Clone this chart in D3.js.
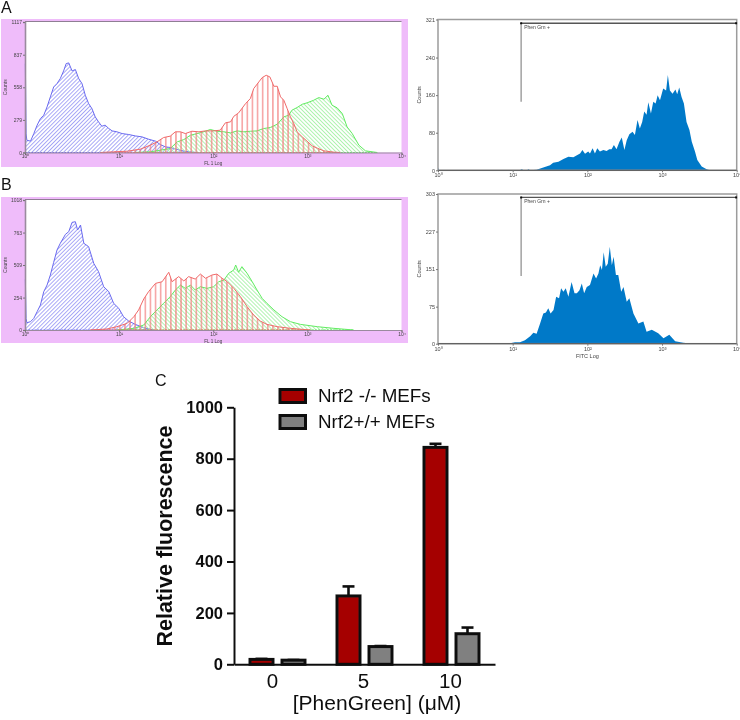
<!DOCTYPE html>
<html>
<head>
<meta charset="utf-8">
<script src="https://cdn.jsdelivr.net/npm/d3@7"></script>
<style>
  html, body { margin: 0; padding: 0; background: #fff; }
  svg { display: block; font-family: "Liberation Sans", Arial, sans-serif; }
</style>
</head>
<body>
<svg id="fig" width="740" height="720"></svg>
<script>
// flow cytometry histograms, channel 0-1024 = 4 log decades
var decadeLabels = ["10⁰", "10¹", "10²", "10³", "10⁴"];
var decadeChannels = [0, 256, 512, 768, 1024];

var blueAch = [1, 3, 5, 15, 24, 33, 42, 51, 60, 69, 78, 87, 96, 105, 112, 119, 128, 137, 146, 155, 164, 173, 182, 191, 200, 209, 218, 228, 237, 250, 264, 282, 300, 318, 336, 355, 368, 382, 395, 414, 436, 468];
var blueAct = [760, 160, 105, 97, 162, 234, 291, 319, 390, 476, 561, 590, 633, 698, 761, 767, 698, 710, 633, 590, 490, 419, 376, 305, 262, 225, 234, 205, 185, 177, 162, 154, 142, 134, 114, 97, 68, 48, 43, 26, 9, 0];
var redAch = [205, 241, 278, 314, 341, 359, 377, 395, 409, 423, 436, 454, 473, 491, 513, 531, 545, 559, 568, 581, 600, 613, 622, 636, 645, 656, 666, 677, 686, 695, 704, 713, 722, 731, 740, 754, 767, 781, 795, 813, 840, 858];
var redAct = [0, 6, 11, 29, 63, 91, 128, 140, 177, 177, 162, 182, 177, 185, 185, 191, 254, 262, 310, 339, 419, 462, 547, 604, 641, 661, 647, 567, 567, 476, 447, 376, 305, 248, 177, 134, 97, 57, 37, 14, 3, 0];
var greenAch = [296, 341, 368, 395, 414, 432, 450, 468, 486, 504, 522, 541, 559, 577, 595, 613, 631, 649, 667, 686, 704, 717, 726, 740, 754, 767, 785, 799, 813, 824, 835, 849, 863, 876, 890, 908, 926, 958];
var greenAct = [0, 6, 20, 34, 91, 111, 148, 162, 177, 197, 182, 177, 168, 185, 177, 182, 185, 205, 214, 242, 305, 319, 362, 385, 413, 425, 447, 470, 456, 490, 405, 382, 333, 219, 162, 63, 14, 0];

var blueBch = [1, 3, 5, 15, 24, 33, 42, 51, 60, 69, 78, 87, 96, 110, 119, 128, 137, 143, 151, 160, 173, 187, 200, 214, 228, 241, 255, 268, 282, 300, 323, 350];
var blueBct = [397, 90, 57, 65, 91, 144, 196, 300, 352, 431, 530, 626, 679, 749, 770, 843, 848, 783, 822, 679, 653, 522, 457, 339, 300, 209, 170, 104, 70, 44, 18, 0];
var redBch = [178, 223, 250, 278, 296, 309, 323, 336, 355, 373, 391, 400, 418, 432, 445, 463, 477, 491, 509, 522, 536, 550, 568, 586, 604, 622, 640, 658, 686, 722, 776];
var redBct = [0, 8, 26, 52, 104, 157, 243, 300, 365, 378, 452, 378, 418, 384, 418, 399, 438, 405, 431, 438, 405, 378, 326, 261, 183, 117, 70, 44, 26, 13, 0];
var greenBch = [250, 296, 323, 341, 359, 377, 395, 409, 423, 436, 450, 463, 477, 495, 513, 527, 541, 554, 568, 573, 581, 590, 604, 618, 631, 645, 658, 677, 699, 722, 749, 795, 840, 894];
var greenBct = [0, 13, 39, 104, 157, 209, 261, 313, 352, 326, 352, 313, 339, 326, 339, 378, 391, 444, 470, 509, 452, 496, 444, 378, 313, 248, 209, 157, 104, 65, 44, 26, 13, 0];

var fitcAch = [0, 2, 4, 280, 287, 294, 305, 310, 316, 338, 361, 384, 395, 413, 430, 447, 464, 487, 495, 504, 515, 521, 530, 538, 546, 555, 567, 578, 587, 595, 603, 612, 622, 630, 639, 647, 656, 667, 675, 684, 692, 700, 707, 715, 721, 730, 738, 746, 753, 761, 772, 782, 788, 795, 804, 814, 820, 827, 835, 843, 852, 862, 870, 881, 889, 904, 921, 932];
var fitcAct = [6, 3, 0, 0, 2, 0, 0, 2, 0, 1, 6, 11, 16, 18, 24, 29, 28, 36, 43, 35, 40, 36, 47, 36, 47, 40, 43, 41, 45, 45, 54, 45, 61, 70, 43, 64, 77, 82, 75, 107, 89, 103, 125, 118, 145, 121, 146, 142, 160, 149, 174, 170, 203, 170, 163, 172, 162, 176, 156, 142, 103, 86, 61, 40, 22, 8, 2, 0];
var fitcBch = [235, 247, 264, 281, 298, 316, 327, 338, 350, 361, 370, 378, 386, 396, 405, 415, 422, 430, 438, 447, 458, 468, 476, 485, 493, 501, 510, 521, 533, 542, 550, 556, 562, 568, 575, 582, 589, 596, 602, 610, 618, 628, 636, 647, 656, 670, 687, 704, 715, 733, 755, 773, 793, 813, 841, 875];
var fitcBct = [0, 1, 3, 3, 7, 15, 22, 20, 41, 61, 63, 72, 61, 68, 95, 92, 112, 105, 112, 95, 125, 102, 102, 108, 122, 102, 115, 119, 142, 132, 142, 159, 149, 185, 156, 162, 196, 159, 176, 139, 139, 105, 115, 85, 92, 61, 41, 45, 24, 28, 21, 11, 18, 5, 2, 0];

var yTicksA = [0, 279, 558, 837, 1117];
var yTicksB = [0, 254, 509, 763, 1018];
var yTicksFitcA = [0, 80, 160, 240, 321];
var yTicksFitcB = [0, 75, 151, 227, 303];

// bar chart
var doses = ["0", "5", "10"];
var barSeries = ["Nrf2 -/- MEFs", "Nrf2+/+ MEFs"];
var koMeans = [19, 266, 844];
var koTops = [21, 303, 858];
var wtMeans = [16, 69, 119];
var wtTops = [17, 71, 143];
var fluorTicks = [0, 200, 400, 600, 800, 1000];

var svg = d3.select("#fig");
var defs = svg.append("defs");

defs.append("filter").attr("id", "soft")
    .attr("x", "-2%").attr("y", "-2%").attr("width", "104%").attr("height", "104%")
    .append("feGaussianBlur").attr("stdDeviation", 0.45);
defs.append("filter").attr("id", "softer")
    .attr("x", "-2%").attr("y", "-2%").attr("width", "104%").attr("height", "104%")
    .append("feGaussianBlur").attr("stdDeviation", 0.3);

function hatch(id, color, spacing, angle, width) {
  defs.append("pattern")
      .attr("id", id)
      .attr("patternUnits", "userSpaceOnUse")
      .attr("width", spacing)
      .attr("height", spacing)
      .attr("patternTransform", "rotate(" + angle + ")")
      .append("line")
      .attr("x1", spacing / 2).attr("x2", spacing / 2)
      .attr("y1", 0).attr("y2", spacing)
      .attr("stroke", color)
      .attr("stroke-width", width);
}
hatch("hatchBlue", "#9f9ff6", 2.8, 45, 0.9);
hatch("hatchRed", "#f27878", 5.1, 0, 1.1);
hatch("hatchGreen", "#a8f2a8", 2.8, -45, 0.9);

var lineColor = {hatchBlue: "#6a6af0", hatchRed: "#f06a6a", hatchGreen: "#62ec62"};

function flowPanel(box, yTicks, layers, xTitle) {
  var g = svg.append("g").attr("filter", "url(#soft)");

  g.append("rect")
   .attr("x", box.bgLeft).attr("y", box.bgTop)
   .attr("width", box.bgRight - box.bgLeft).attr("height", box.bgBottom - box.bgTop)
   .attr("fill", "#efbcfa");
  g.append("rect")
   .attr("x", box.left).attr("y", box.top)
   .attr("width", box.right - box.left).attr("height", box.bottom - box.top)
   .attr("fill", "#fff");

  var x = d3.scaleLinear().domain([0, 1024]).range([box.left, box.right]);
  var y = d3.scaleLinear().domain([0, yTicks[yTicks.length - 1]]).range([box.bottom, box.top]);

  layers.forEach(function(s) {
    var pts = d3.zip(s.ch, s.ct);
    g.append("path")
     .datum(pts)
     .attr("d", d3.area().x(function(d) { return x(d[0]); }).y0(box.bottom).y1(function(d) { return y(d[1]); }))
     .attr("fill", "url(#" + s.fill + ")");
    g.append("path")
     .datum(pts)
     .attr("d", d3.line().x(function(d) { return x(d[0]); }).y(function(d) { return y(d[1]); }))
     .attr("fill", "none")
     .attr("stroke", lineColor[s.fill])
     .attr("stroke-width", 1);
    g.append("line")
     .attr("x1", x(s.ch[0])).attr("x2", x(s.ch[s.ch.length - 1]))
     .attr("y1", box.bottom).attr("y2", box.bottom)
     .attr("stroke", lineColor[s.fill])
     .attr("stroke-dasharray", "2,1");
  });

  var yAxis = d3.axisLeft(y).tickValues(yTicks).tickSize(2).tickPadding(1).tickFormat(d3.format("d"));
  var xAxis = d3.axisBottom(x).tickValues(decadeChannels).tickSize(2).tickPadding(0)
                .tickFormat(function(d, i) { return decadeLabels[i]; });

  var ya = g.append("g").attr("transform", "translate(" + box.left + ",0)").call(yAxis);
  var xa = g.append("g").attr("transform", "translate(0," + box.bottom + ")").call(xAxis);
  [ya, xa].forEach(function(a) {
    a.attr("font-family", "Liberation Sans").attr("font-size", 5);
    a.selectAll("text").attr("fill", "#444");
    a.selectAll("line").attr("stroke", "#777");
    a.select(".domain").attr("stroke", "#9a8a9e").attr("stroke-width", 1);
  });
  ya.select(".domain").attr("stroke-width", 1.6);

  g.append("line")
   .attr("x1", box.left).attr("x2", box.right)
   .attr("y1", box.top - 0.5).attr("y2", box.top - 0.5)
   .attr("stroke", "#8f7f93").attr("stroke-width", 1.2);

  g.append("text")
   .attr("transform", "translate(" + (box.left - 18.5) + "," + ((box.top + box.bottom) / 2) + ") rotate(-90)")
   .attr("text-anchor", "middle")
   .attr("font-size", 5).attr("fill", "#444")
   .text("Counts");
  g.append("text")
   .attr("x", (box.left + box.right) / 2).attr("y", box.bottom + 12.5)
   .attr("text-anchor", "middle")
   .attr("font-size", 4.6).attr("fill", "#444")
   .text(xTitle);
}

function fitcPanel(box, yTicks, ch, ct, gate, xTitle) {
  var g = svg.append("g").attr("filter", "url(#soft)");
  var x = d3.scaleLinear().domain([0, 1024]).range([box.left, box.right]);
  var y = d3.scaleLinear().domain([0, yTicks[yTicks.length - 1]]).range([box.bottom, box.top]);

  g.append("path")
   .datum(d3.zip(ch, ct))
   .attr("d", d3.area().x(function(d) { return x(d[0]); }).y0(box.bottom).y1(function(d) { return y(d[1]); }))
   .attr("fill", "#0479c8");

  g.append("rect")
   .attr("x", box.left).attr("y", box.top)
   .attr("width", box.right - box.left).attr("height", box.bottom - box.top)
   .attr("fill", "none")
   .attr("stroke", "#9c9c9c").attr("stroke-width", 1.5);
  g.append("line")
   .attr("x1", box.left).attr("x2", box.right)
   .attr("y1", box.bottom).attr("y2", box.bottom)
   .attr("stroke", "#555").attr("stroke-width", 1);

  var yAxis = d3.axisLeft(y).tickValues(yTicks).tickSize(2).tickPadding(1);
  var xAxis = d3.axisBottom(x).tickValues(decadeChannels).tickSize(2).tickPadding(1)
                .tickFormat(function(d, i) { return decadeLabels[i]; });
  var ya = g.append("g").attr("transform", "translate(" + box.left + ",0)").call(yAxis);
  var xa = g.append("g").attr("transform", "translate(0," + box.bottom + ")").call(xAxis);
  [ya, xa].forEach(function(a) {
    a.attr("font-family", "Liberation Sans").attr("font-size", 5.5);
    a.selectAll("text").attr("fill", "#444");
    a.selectAll("line").attr("stroke", "#777");
    a.select(".domain").remove();
  });

  // gate marker
  g.append("line")
   .attr("x1", x(gate.ch)).attr("x2", x(gate.ch))
   .attr("y1", y(gate.top)).attr("y2", y(gate.low))
   .attr("stroke", "#9a9a9a").attr("stroke-width", 1.4);
  g.append("line")
   .attr("x1", x(gate.ch)).attr("x2", x(1024))
   .attr("y1", y(gate.top)).attr("y2", y(gate.top))
   .attr("stroke", "#555").attr("stroke-width", 1.3);
  [gate.ch, 1022].forEach(function(c) {
    g.append("rect")
     .attr("x", x(c) - 1).attr("y", y(gate.top) - 1)
     .attr("width", 2).attr("height", 2)
     .attr("fill", "#111");
  });
  g.append("text")
   .attr("x", x(gate.ch) + 3).attr("y", y(gate.top) + 5.5)
   .attr("font-size", 5).attr("fill", "#444")
   .text(gate.label);

  g.append("text")
   .attr("transform", "translate(" + (box.left - 17) + "," + ((box.top + box.bottom) / 2) + ") rotate(-90)")
   .attr("text-anchor", "middle")
   .attr("font-size", 5.5).attr("fill", "#444")
   .text("Counts");
  if (xTitle) {
    g.append("text")
     .attr("x", (box.left + box.right) / 2).attr("y", box.bottom + 14)
     .attr("text-anchor", "middle")
     .attr("font-size", 5.5).attr("fill", "#444")
     .text(xTitle);
  }
}

flowPanel({bgLeft: 1, bgRight: 408, bgTop: 19, bgBottom: 167, left: 25, right: 401.5, top: 22, bottom: 152.5},
          yTicksA,
          [{ch: blueAch, ct: blueAct, fill: "hatchBlue"},
           {ch: greenAch, ct: greenAct, fill: "hatchGreen"},
           {ch: redAch, ct: redAct, fill: "hatchRed"}],
          "FL 1 Log");
flowPanel({bgLeft: 1, bgRight: 408, bgTop: 197, bgBottom: 343, left: 25, right: 401.5, top: 200, bottom: 330},
          yTicksB,
          [{ch: blueBch, ct: blueBct, fill: "hatchBlue"},
           {ch: greenBch, ct: greenBct, fill: "hatchGreen"},
           {ch: redBch, ct: redBct, fill: "hatchRed"}],
          "FL 1 Log");

fitcPanel({left: 438, right: 736.7, top: 19.5, bottom: 170.3}, yTicksFitcA, fitcAch, fitcAct,
          {ch: 285, top: 313, low: 146, label: "Phen Grn +"}, null);
fitcPanel({left: 438, right: 736.7, top: 194, bottom: 343.7}, yTicksFitcB, fitcBch, fitcBct,
          {ch: 285, top: 296, low: 137, label: "Phen Grn +"}, "FITC Log");

// panel letters
[["A", 1, 13], ["B", 1, 190], ["C", 155, 386]].forEach(function(p) {
  svg.append("text")
     .attr("x", p[1]).attr("y", p[2])
     .attr("font-size", 16).attr("fill", "#111")
     .text(p[0]);
});

// bar chart
var chart = svg.append("g").attr("filter", "url(#softer)");
var barStroke = 3;

var barX = d3.scaleBand().domain(doses).range([234, 495]);
var barX1 = d3.scaleBand().domain(barSeries).range([-27.5, 27.5]).paddingInner(9 / 32);
var barY = d3.scaleLinear().domain([0, 1000]).range([664.3, 407.3]);
var barColor = d3.scaleOrdinal().domain(barSeries).range(["#a50000", "#808080"]);

var barRows = [
  {name: barSeries[0], means: koMeans, tops: koTops},
  {name: barSeries[1], means: wtMeans, tops: wtTops}
];

barRows.forEach(function(row) {
  var gr = chart.append("g");
  var items = gr.selectAll("g").data(doses).enter().append("g")
     .attr("transform", function(d) {
       return "translate(" + (barX(d) + barX.bandwidth() / 2 + barX1(row.name)) + ",0)";
     });
  var w = barX1.bandwidth();
  items.append("line")
     .attr("x1", w / 2).attr("x2", w / 2)
     .attr("y1", function(d, i) { return barY(row.means[i]); })
     .attr("y2", function(d, i) { return barY(row.tops[i]); })
     .attr("stroke", "#111").attr("stroke-width", 2.6);
  items.append("line")
     .attr("x1", w / 2 - 6).attr("x2", w / 2 + 6)
     .attr("y1", function(d, i) { return barY(row.tops[i]); })
     .attr("y2", function(d, i) { return barY(row.tops[i]); })
     .attr("stroke", "#111").attr("stroke-width", 2.6);
  items.append("rect")
     .attr("x", 0).attr("width", w)
     .attr("y", function(d, i) { return barY(row.means[i]); })
     .attr("height", function(d, i) { return barY(0) - barY(row.means[i]); })
     .attr("fill", barColor(row.name))
     .attr("stroke", "#111").attr("stroke-width", barStroke);
});

var fluorAxis = d3.axisLeft(barY).tickValues(fluorTicks).tickSize(7).tickPadding(4).tickSizeOuter(0).tickFormat(d3.format("d"));
var doseAxis = d3.axisBottom(barX).tickSize(0).tickPadding(9);

var fa = chart.append("g").attr("transform", "translate(234,0)").call(fluorAxis);
fa.attr("font-family", "Liberation Sans").attr("font-size", 16.5).attr("font-weight", "bold");
fa.selectAll("text").attr("fill", "#111");
fa.selectAll("line").attr("stroke", "#111").attr("stroke-width", 2);
fa.select(".domain").attr("stroke", "#111").attr("stroke-width", 2);

var da = chart.append("g").attr("transform", "translate(0,664.3)").call(doseAxis);
da.attr("font-family", "Liberation Sans").attr("font-size", 20.5);
da.selectAll("text").attr("fill", "#111")
  .attr("dx", function(d) { return d === "0" ? -5 : -1; });
da.select(".domain").attr("stroke", "#111").attr("stroke-width", 2);

chart.append("text")
   .attr("transform", "translate(172,536) rotate(-90)")
   .attr("text-anchor", "middle")
   .attr("font-size", 21.5).attr("font-weight", "bold").attr("fill", "#111")
   .text("Relative fluorescence");

chart.append("text")
   .attr("x", 377).attr("y", 710)
   .attr("text-anchor", "middle")
   .attr("font-size", 21).attr("fill", "#111")
   .text("[PhenGreen] (μM)");

barSeries.forEach(function(name, i) {
  chart.append("rect")
     .attr("x", 280).attr("y", 389.5 + i * 26)
     .attr("width", 25.5).attr("height", 13)
     .attr("fill", barColor(name))
     .attr("stroke", "#111").attr("stroke-width", barStroke);
  chart.append("text")
     .attr("x", 318).attr("y", 402 + i * 26)
     .attr("font-size", 18.8).attr("fill", "#111")
     .text(name);
});
</script>
</body>
</html>
